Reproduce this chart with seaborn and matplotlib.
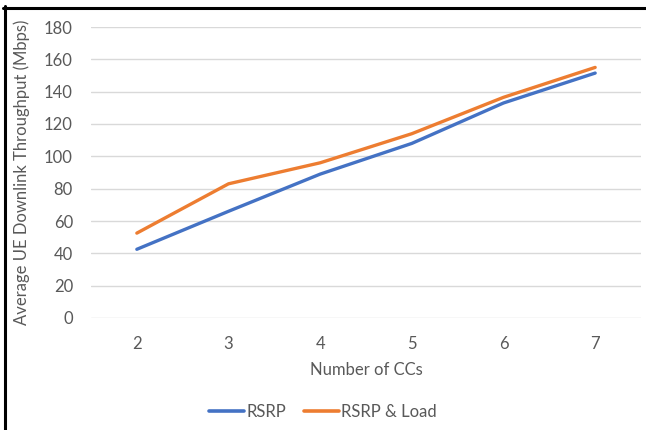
import matplotlib
matplotlib.use("Agg")
import matplotlib.pyplot as plt
from matplotlib.lines import Line2D
import seaborn as sns
import pandas as pd

categories = [2, 3, 4, 5, 6, 7]
rsrp = [42.5, 66, 89, 108, 133, 151.5]
rsrp_load = [52.5, 83, 96, 114, 136.5, 155]
series_names = ["RSRP", "RSRP & Load"]
y_ticks = [0, 20, 40, 60, 80, 100, 120, 140, 160, 180]

df = pd.DataFrame({
    "x": categories * 2,
    "y": rsrp + rsrp_load,
    "series": [series_names[0]] * len(categories) + [series_names[1]] * len(categories),
})

sns.set_theme(style="white")
plt.rcParams["font.family"] = ["Lato", "DejaVu Sans"]
text_color = "#595959"
fs = 12

W, H = 646, 430
fig = plt.figure(figsize=(W / 100, H / 100), dpi=100)
ax = fig.add_axes([91 / W, 1 - 318 / H, (641 - 91) / W, (318 - 27) / H])

sns.lineplot(data=df, x="x", y="y", hue="series", ax=ax,
             palette=["#4472C4", "#ED7D31"], linewidth=2.4, legend=False)

ax.set_xlim(1.5, 7.5)
ax.set_ylim(0, 180)
ax.set_yticks(y_ticks)
ax.set_xticks(categories)
ax.set_xticklabels([str(c) for c in categories])
ax.yaxis.grid(True, color="#D9D9D9", linewidth=1.0)
ax.set_axisbelow(True)
for s in ax.spines.values():
    s.set_visible(False)
ax.tick_params(axis="both", length=0, labelsize=fs, colors=text_color)
ax.tick_params(axis="y", pad=13)
ax.tick_params(axis="x", pad=13)

ax.set_xlabel("Number of CCs", fontsize=fs, color=text_color)
ax.set_ylabel("Average UE Downlink Throughput (Mbps)", fontsize=fs, color=text_color)
ax.xaxis.set_label_coords(0.5, (318 - 370) / 291)
ax.xaxis.label.set_va("center")
ax.yaxis.set_label_coords((22 - 91) / 550, 0.5)
ax.yaxis.label.set_va("center")

handles = [Line2D([0], [0], color="#4472C4", lw=2.6),
           Line2D([0], [0], color="#ED7D31", lw=2.6)]
fig.legend(handles, series_names, loc="center", bbox_to_anchor=(323 / W, 1 - 412 / H),
           ncol=2, frameon=False, fontsize=fs, handlelength=2.1, handletextpad=0.1,
           columnspacing=1.1, labelcolor=text_color)

fig.add_artist(Line2D([4.5 / W, 4.5 / W], [0, 1 - 6 / H], transform=fig.transFigure,
                      color="black", lw=2.2))
fig.add_artist(Line2D([3 / W, 1], [1 - 7.5 / H, 1 - 7.5 / H], transform=fig.transFigure,
                      color="black", lw=2.2))

fig.savefig("out.png", dpi=100, facecolor="white")
